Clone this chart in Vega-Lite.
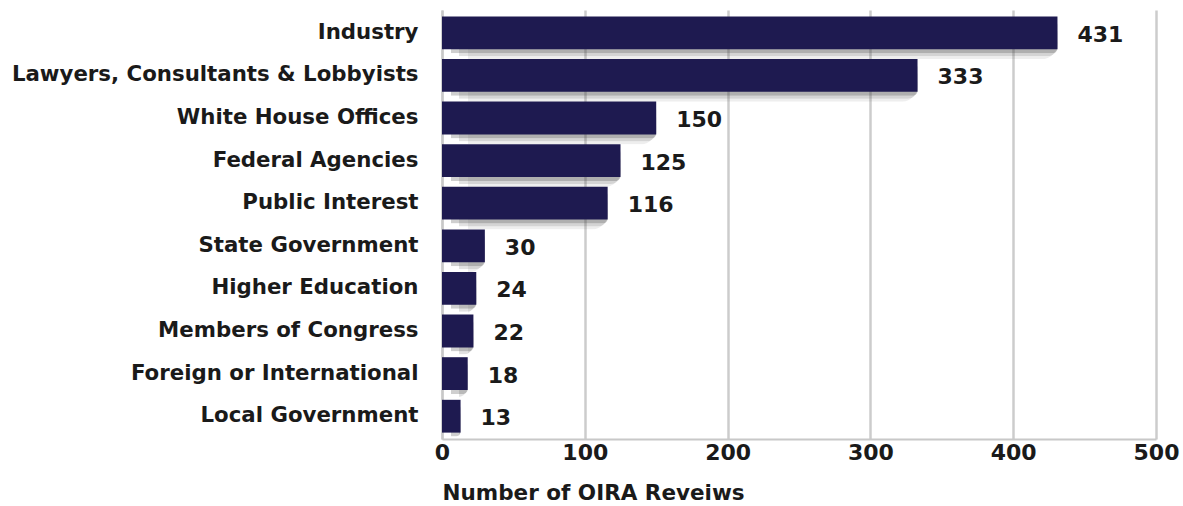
{
  "$schema": "https://vega.github.io/schema/vega-lite/v6.json",
  "width": 714,
  "height": 429,
  "autosize": {"type": "none"},
  "padding": {"left": 442, "top": 10, "right": 27, "bottom": 67},
  "background": "white",
  "config": {"view": {"stroke": null}, "font": "DejaVu Sans"},
  "data": {"values": [
    {"group": "Industry", "reviews": 431},
    {"group": "Lawyers, Consultants & Lobbyists", "reviews": 333},
    {"group": "White House Offices", "reviews": 150},
    {"group": "Federal Agencies", "reviews": 125},
    {"group": "Public Interest", "reviews": 116},
    {"group": "State Government", "reviews": 30},
    {"group": "Higher Education", "reviews": 24},
    {"group": "Members of Congress", "reviews": 22},
    {"group": "Foreign or International", "reviews": 18},
    {"group": "Local Government", "reviews": 13}
  ]},
  "encoding": {
    "y": {"field": "group", "type": "nominal", "sort": null,
      "scale": {"paddingInner": 0.23, "paddingOuter": 0.15},
      "axis": {"title": null, "domain": true, "domainColor": "#c8c8c8", "domainWidth": 2, "ticks": false, "labelLimit": 0,
        "labelFont": "DejaVu Sans", "labelFontWeight": "bold", "labelFontSize": 21.3, "labelColor": "#1a1a1a", "labelPadding": 24}}
  },
  "layer": [
    {"mark": {"type": "bar", "color": "#555555", "opacity": 0.1, "xOffset": 26, "x2Offset": 4, "yOffset": 10, "y2Offset": 22, "cornerRadius": 16},
     "encoding": {"x": {"field": "reviews", "type": "quantitative"}}},
    {"mark": {"type": "bar", "color": "#555555", "opacity": 0.17, "xOffset": 17, "x2Offset": 4, "yOffset": 7, "y2Offset": 15, "cornerRadius": 10},
     "encoding": {"x": {"field": "reviews", "type": "quantitative"}}},
    {"mark": {"type": "bar", "color": "#444444", "opacity": 0.26, "xOffset": 9, "x2Offset": 3, "yOffset": 4, "y2Offset": 8, "cornerRadius": 5},
     "encoding": {"x": {"field": "reviews", "type": "quantitative"}}},
    {"mark": {"type": "bar", "color": "#1e1a50"},
     "encoding": {"x": {"field": "reviews", "type": "quantitative",
       "scale": {"domain": [0, 500], "nice": false},
       "axis": {"values": [0, 100, 200, 300, 400, 500], "grid": true, "gridColor": "#cccccc", "gridWidth": 2.5,
         "domain": true, "domainColor": "#c8c8c8", "domainWidth": 2, "ticks": false, "labelFlush": false,
         "labelFont": "DejaVu Sans", "labelFontWeight": "bold", "labelFontSize": 22, "labelColor": "#1a1a1a", "labelPadding": 3,
         "title": "Number of OIRA Reveiws", "titleFont": "DejaVu Sans", "titleFontWeight": "bold", "titleFontSize": 21.5,
         "titleColor": "#1a1a1a", "titleAnchor": "start", "titleAlign": "left", "titlePadding": 19}}}},
    {"mark": {"type": "text", "align": "left", "baseline": "middle", "dx": 20, "dy": 2, "font": "DejaVu Sans", "fontWeight": "bold", "fontSize": 22, "color": "#1a1a1a"},
     "encoding": {"x": {"field": "reviews", "type": "quantitative"}, "text": {"field": "reviews", "type": "quantitative"}}}
  ]
}
